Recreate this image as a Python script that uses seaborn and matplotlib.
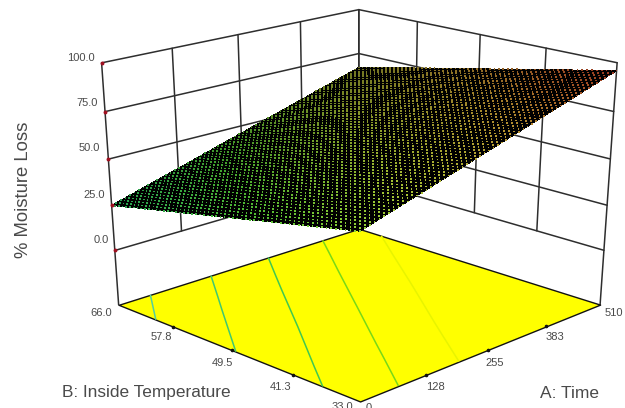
import numpy as np
import matplotlib
matplotlib.use("Agg")
import matplotlib.pyplot as plt
import seaborn as sns
from mpl_toolkits.mplot3d.art3d import Poly3DCollection

A_ticks = [0, 128, 255, 383, 510]
B_ticks = [33.0, 41.3, 49.5, 57.8, 66.0]
Z_ticks = [0.0, 25.0, 50.0, 75.0, 100.0]
Z_floor = -31.0
Moisture = [
    [54.0, 64.5, 75.0, 85.5, 96.0],
    [46.75, 57.25, 67.75, 78.25, 88.75],
    [39.5, 50.0, 60.5, 71.0, 81.5],
    [32.25, 42.75, 53.25, 63.75, 74.25],
    [25.0, 35.5, 46.0, 56.5, 67.0],
]
Contour_levels = [30, 40, 50, 60, 70]
Contour_colors = ["#55cfa0", "#40c870", "#40c850", "#78d818", "#e8f400"]

W, H = 625, 408
sns.set_theme(style="white")
plt.rcParams["font.family"] = ["Liberation Sans", "DejaVu Sans"]
fig = plt.figure(figsize=(W / 100, H / 100), dpi=100, facecolor="white")
ax = fig.add_axes([60.29 / W, -13.13 / H, 582.48 / W, 454.22 / H],
                  projection="3d", computed_zorder=False)
ax.apply_aspect = lambda position=None: None
ax.set_xlim(0, 510, view_margin=0)
ax.set_ylim(33, 66, view_margin=0)
ax.set_zlim(Z_floor, 100, view_margin=0)
ax.view_init(elev=22.243, azim=-135.105)
ax.set_box_aspect((1, 1.0014, 0.9516))
ax.set_proj_type("persp", focal_length=0.5885)
ax.set_axis_off()

A = np.array(A_ticks, float)
B = np.array(B_ticks, float)
Z = np.array(Moisture, float)
AA, BB = np.meshgrid(A, B)
c_line = "#2e2e2e"
for z in Z_ticks:
    ax.plot([0, 510], [66, 66], [z, z], color=c_line, lw=1.1, zorder=1)
    ax.plot([510, 510], [33, 66], [z, z], color=c_line, lw=1.1, zorder=1)
for a in A_ticks:
    ax.plot([a, a], [66, 66], [Z_floor if a in (0, 510) else 0, 100], color=c_line, lw=1.1, zorder=1)
for b in B_ticks:
    ax.plot([510, 510], [b, b], [Z_floor if b in (33.0, 66.0) else 0, 100], color=c_line, lw=1.1, zorder=1)

floor = [[(0, 33, Z_floor), (510, 33, Z_floor), (510, 66, Z_floor), (0, 66, Z_floor)]]
ax.add_collection3d(Poly3DCollection(floor, facecolors="#ffff00", edgecolors="#111111",
                                     linewidths=1, zorder=2))
ax.contour(AA, BB, Z, levels=Contour_levels, zdir="z", offset=Z_floor,
           colors=Contour_colors, linewidths=1.1, zorder=3)
ax.plot_surface(AA, BB, Z, color="black", shade=False, linewidth=0, antialiased=False, zorder=4)

ga = np.linspace(0, 510, 60)
gb = np.linspace(33, 66, 60)
rows = np.array([np.interp(ga, A, r) for r in Z])
dense = np.array([np.interp(gb, B, rows[:, j]) for j in range(len(ga))]).T
GA, GB = np.meshgrid(ga, gb)
cmap = sns.blend_palette(["#30c868", "#58d038", "#b0d038", "#d0a838", "#c04428"], as_cmap=True)
rgba = cmap((dense.ravel() - 25) / 71)
near = 1 - ((GA.ravel() / 510) + (GB.ravel() - 33) / 33) / 2
rgba[:, :3] *= (0.6 + 0.4 * near)[:, None]
ax.scatter(GA.ravel(), GB.ravel(), dense.ravel(), c=rgba, s=1.4, marker="s",
           linewidths=0, depthshade=False, zorder=5)
ax.plot([0] * 5, [66] * 5, Z_ticks, ls="none", marker="o", ms=1.8, color="#a01020", zorder=6)
ax.plot(A_ticks[1:4], [33] * 3, [Z_floor] * 3, ls="none", marker="o", ms=1.6, color="#111111", zorder=6)
ax.plot([0] * 3, B_ticks[1:4], [Z_floor] * 3, ls="none", marker="o", ms=1.6, color="#111111", zorder=6)


def label(x, y, s, **kw):
    kw.setdefault("color", "#4a4a4a")
    kw.setdefault("fontsize", 8)
    kw.setdefault("va", "center")
    fig.text(x / W, 1 - y / H, s, **kw)


for z, (x, y) in zip(Z_ticks, [(109, 240), (105, 195), (100, 148), (98, 103), (95, 58)]):
    label(x, y, f"{z:.1f}", ha="right")
for b, (x, y) in zip(B_ticks, [(342, 407), (281, 387), (222, 363), (161, 337), (101, 313)]):
    label(x, y, f"{b:.1f}", ha="center")
for a, (x, y) in zip(A_ticks, [(369, 408), (435, 387), (495, 363), (555, 337), (614, 313)]):
    label(x, y, f"{a}", ha="center")
label(24, 190, "% Moisture Loss", rotation=90, ha="center", fontsize=13.3)
label(146, 393, "B: Inside Temperature", ha="center", fontsize=12.4)
label(569, 394, "A: Time", ha="center", fontsize=12.5)

fig.savefig("out.png", dpi=100)
